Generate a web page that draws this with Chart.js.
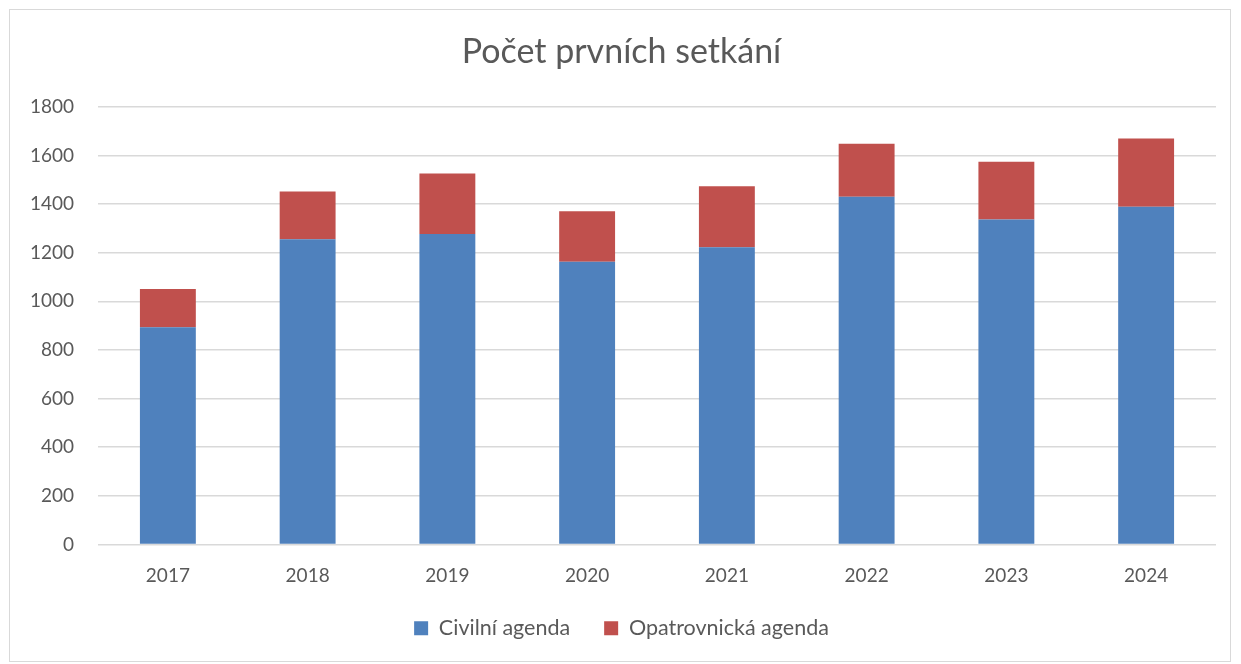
<!DOCTYPE html>
<html>
<head>
<meta charset="utf-8">
<script src="https://cdn.jsdelivr.net/npm/chart.js@4/dist/chart.umd.min.js"></script>
<style>
  html, body { margin: 0; padding: 0; background: #fff; }
  #box {
    position: absolute; left: 9px; top: 9px; width: 1222px; height: 653px;
    border: 1px solid #d9d9d9; box-sizing: border-box; background: #fff;
  }
  #box canvas { display: block; }
</style>
</head>
<body>
<div id="box"><canvas id="chart" width="1220" height="651"></canvas></div>
<script>
const years = ["2017", "2018", "2019", "2020", "2021", "2022", "2023", "2024"];
const civilni = [893, 1255, 1277, 1163, 1222, 1430, 1337, 1389];
const opatrovnicka = [158, 197, 249, 207, 251, 218, 237, 281];
const yTicks = [0, 200, 400, 600, 800, 1000, 1200, 1400, 1600, 1800];

const textColor = "#595959";
const fontFamily = "Lato, 'Open Sans', sans-serif";

const chartConfig = {
  type: "bar",
  data: {
    labels: years,
    datasets: [
      {
        label: "Civilní agenda",
        data: civilni,
        backgroundColor: "#4f81bd",
        borderWidth: 0,
        barPercentage: 0.4,
        categoryPercentage: 1,
      },
      {
        label: "Opatrovnická agenda",
        data: opatrovnicka,
        backgroundColor: "#c0504d",
        borderWidth: 0,
        barPercentage: 0.4,
        categoryPercentage: 1,
      },
    ],
  },
  options: {
    responsive: false,
    animation: false,
    layout: { padding: { left: 17, right: 14, top: 14, bottom: 12 } },
    plugins: {
      title: {
        display: true,
        text: "Počet prvních setkání",
        color: textColor,
        font: { family: fontFamily, size: 34, weight: "normal" },
        padding: { top: 8, bottom: 34 },
      },
      legend: {
        position: "bottom",
        labels: {
          color: textColor,
          font: { family: fontFamily, size: 21.5 },
          boxWidth: 14,
          boxHeight: 14,
          padding: 34,
        },
      },
      tooltip: { enabled: false },
    },
    scales: {
      x: {
        stacked: true,
        grid: { display: false, drawTicks: false },
        border: { display: false },
        ticks: { color: textColor, font: { family: fontFamily, size: 19 }, padding: 20 },
        afterFit: (axis) => { axis.height = 39; },
      },
      y: {
        stacked: true,
        min: 0,
        max: 1800,
        afterBuildTicks: (axis) => { axis.ticks = yTicks.map((v) => ({ value: v })); },
        grid: { color: "#d9d9d9", lineWidth: 1.5, drawTicks: false },
        border: { display: false },
        ticks: {
          color: textColor,
          font: { family: fontFamily, size: 19 },
          padding: 24,
          callback: (v) => String(v),
        },
        afterFit: (axis) => { axis.width = 71; },
      },
    },
  },
};

new Chart(document.getElementById("chart"), chartConfig);
</script>
</body>
</html>
